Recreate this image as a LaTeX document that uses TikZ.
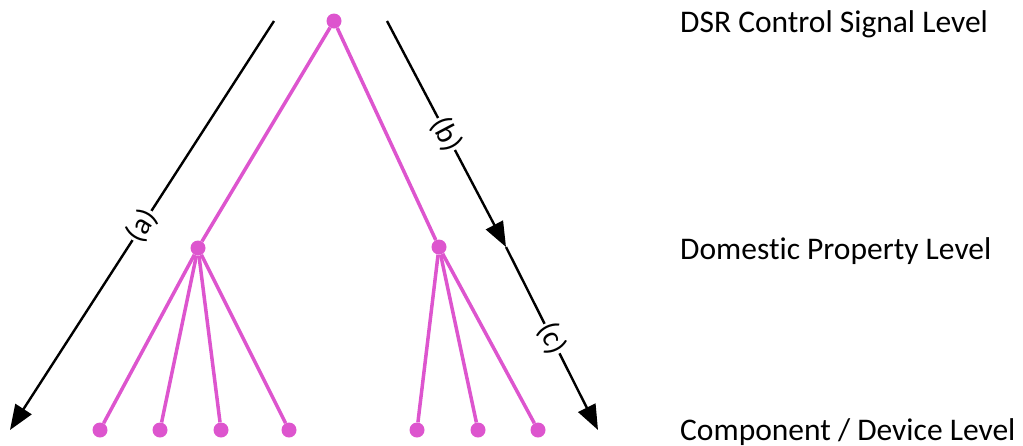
\documentclass[tikz,border=0pt]{standalone}
\usepackage{fontspec}
\setmainfont{Carlito}[Ligatures=NoCommon]
\usetikzlibrary{arrows.meta}
\definecolor{treepink}{RGB}{221,85,206}

\begin{document}
\begin{tikzpicture}[x=1pt,y=-1pt,
  dot/.style={circle,fill=treepink,inner sep=0pt,minimum size=15pt},
  branch/.style={treepink,line width=3.5pt},
  flow/.style={line width=2.4pt,-{Triangle[length=25pt,width=19pt]}},
  flowlabel/.style={sloped,fill=white,inner sep=1pt,font=\fontsize{30}{34}\selectfont},
  level/.style={anchor=base west,inner sep=0pt,font=\fontsize{31.5}{37}\selectfont}]
\useasboundingbox (0,0) rectangle (1023,445);
% tree
\node[dot] (root) at (334,21) {};
\node[dot] (homeL) at (198,248) {};
\node[dot] (homeR) at (439,247) {};
\foreach \n/\x in {1/100,2/160,3/221,4/289} \node[dot] (devL\n) at (\x,430) {};
\foreach \n/\x in {1/417,2/478,3/538} \node[dot] (devR\n) at (\x,430) {};
\draw[branch] (root)--(homeL);
\draw[branch] (root)--(homeR);
\foreach \n in {1,...,4} \draw[branch] (homeL)--(devL\n);
\foreach \n in {1,2,3} \draw[branch] (homeR)--(devR\n);
% arrows
\coordinate (aTop) at (274,21);
\coordinate (aEnd) at (10,430);
\coordinate (bTop) at (387,21);
\coordinate (bEnd) at (506,247);
\coordinate (cEnd) at (598,430);
\draw[flow] (aTop)--node[flowlabel] {(a)} (aEnd);
\draw[flow] (bTop)--node[flowlabel] {(b)} (bEnd);
\draw[flow] (bEnd)--node[flowlabel] {(c)} (cEnd);
% levels
\node[level] (lvlDSR) at (680,32) {DSR Control Signal Level};
\node[level] (lvlHome) at (680,259) {Domestic Property Level};
\node[level] (lvlDev) at (680,440) {Component / Device Level};
\end{tikzpicture}
\end{document}
